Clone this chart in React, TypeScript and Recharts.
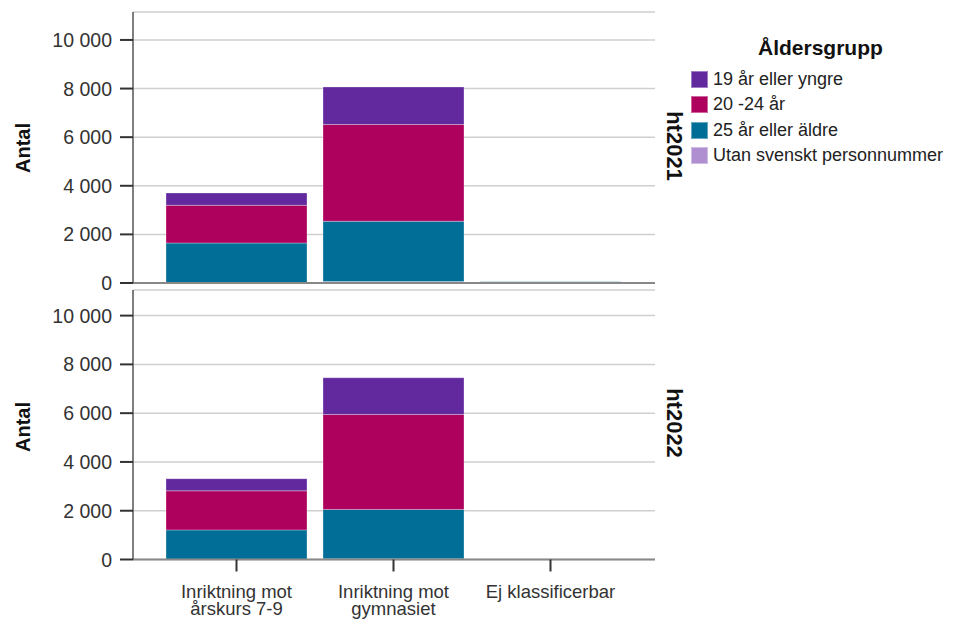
import React from "react";
import { BarChart, Bar, XAxis, YAxis, CartesianGrid } from "recharts";

const categories = ["Inriktning mot\nårskurs 7-9", "Inriktning mot\ngymnasiet", "Ej klassificerbar"];
const seriesNames = ["19 år eller yngre", "20 -24 år", "25 år eller äldre", "Utan svenskt personnummer"];
const seriesColors = ["#62289e", "#ae005d", "#006e96", "#b08fd0"];

// ht2021
const y2021_19 = [506, 1547, 0];
const y2021_20_24 = [1552, 3980, 0];
const y2021_25 = [1636, 2480, 40];
const y2021_utan = [10, 60, 10];

// ht2022
const y2022_19 = [497, 1507, 0];
const y2022_20_24 = [1602, 3892, 0];
const y2022_25 = [1204, 2024, 0];
const y2022_utan = [10, 30, 0];

const yTicks = [0, 2000, 4000, 6000, 8000, 10000];

const build = (a: number[], b: number[], c: number[], d: number[]) =>
  categories.map((cat, i) => ({ cat, s19: a[i], s2024: b[i], s25: c[i], utan: d[i] }));

const data2021 = build(y2021_19, y2021_20_24, y2021_25, y2021_utan);
const data2022 = build(y2022_19, y2022_20_24, y2022_25, y2022_utan);

const FONT = "'Liberation Sans', Arial, sans-serif";
const fmt = (v: number) => (v >= 1000 ? `${Math.floor(v / 1000)} ${String(v % 1000).padStart(3, "0")}` : String(v));

const CatTick = (props: any) => {
  const { x, y, payload } = props;
  const lines = String(payload.value).split("\n");
  return (
    <g>
      {lines.map((l, i) => (
        <text key={i} x={x} y={y + 26.5 + i * 17} textAnchor="middle" fontSize={18.5} fill="#333" fontFamily={FONT}>
          {l}
        </text>
      ))}
    </g>
  );
};

const ValTick = (props: any) => {
  const { y, payload } = props;
  return (
    <text x={112} y={y} dy={7} textAnchor="end" fontSize={19.5} fill="#333" fontFamily={FONT}>
      {fmt(Number(payload.value))}
    </text>
  );
};

const LegendBox = () => (
  <div style={{ position: "absolute", left: 691, top: 33, fontFamily: FONT, width: 280 }}>
    <div style={{ fontWeight: "bold", fontSize: 21, color: "#111", marginLeft: 67, height: 34, lineHeight: "30px" }}>Åldersgrupp</div>
    {seriesNames.map((n, i) => (
      <div key={n} style={{ display: "flex", alignItems: "center", height: 25.3 }}>
        <div style={{ width: 17, height: 17, background: seriesColors[i], border: "1px solid rgba(255,255,255,0.4)", boxSizing: "border-box", marginRight: 5 }} />
        <span style={{ fontSize: 18, color: "#222", whiteSpace: "nowrap" }}>{n}</span>
      </div>
    ))}
  </div>
);

const bars = () => [
  <Bar key="utan" dataKey="utan" stackId="a" fill={seriesColors[3]} stroke="#ffffff" strokeOpacity={0.3} strokeWidth={1} isAnimationActive={false} name={seriesNames[3]} />,
  <Bar key="s25" dataKey="s25" stackId="a" fill={seriesColors[2]} stroke="#ffffff" strokeOpacity={0.3} strokeWidth={1} isAnimationActive={false} name={seriesNames[2]} />,
  <Bar key="s2024" dataKey="s2024" stackId="a" fill={seriesColors[1]} stroke="#ffffff" strokeOpacity={0.3} strokeWidth={1} isAnimationActive={false} name={seriesNames[1]} />,
  <Bar key="s19" dataKey="s19" stackId="a" fill={seriesColors[0]} stroke="#ffffff" strokeOpacity={0.3} strokeWidth={1} isAnimationActive={false} name={seriesNames[0]} />,
];

const yAxisProps = {
  width: 133,
  ticks: yTicks,
  tick: <ValTick />,
  tickSize: 13,
  tickMargin: 8,
  tickLine: { stroke: "#333", strokeWidth: 2 },
  axisLine: { stroke: "#555", strokeWidth: 1.5 },
  interval: 0 as const,
};

const SideLabel = ({ x, y, text, rot, size }: { x: number; y: number; text: string; rot: number; size: number }) => (
  <div
    style={{
      position: "absolute",
      left: x,
      top: y,
      transform: `translate(-50%, -50%) rotate(${rot}deg)`,
      fontFamily: FONT,
      fontWeight: "bold",
      fontSize: size,
      color: "#111",
      whiteSpace: "nowrap",
    }}
  >
    {text}
  </div>
);

export default function App() {
  return (
    <div style={{ position: "absolute", left: 0, top: 0, width: 959, height: 621, background: "#fff", overflow: "hidden" }}>
      <div style={{ position: "absolute", left: 0, top: 283 }}>
        <BarChart width={700} height={338} data={data2022} margin={{ top: 7, right: 45, bottom: 0, left: 0 }} barCategoryGap={8}>
          <CartesianGrid vertical={false} stroke="#cfcfcf" strokeWidth={1.5} />
          <XAxis
            dataKey="cat"
            height={61.5}
            padding={{ left: 25, right: 26 }}
            tick={<CatTick />}
            tickSize={12}
            tickMargin={0}
            interval={0}
            tickLine={{ stroke: "#333", strokeWidth: 2 }}
            axisLine={{ stroke: "#888", strokeWidth: 2 }}
          />
          <YAxis domain={[0, 11050]} {...yAxisProps} />
          {bars()}
        </BarChart>
      </div>
      <div style={{ position: "absolute", left: 0, top: 0 }}>
        <BarChart width={700} height={300} data={data2021} margin={{ top: 12, right: 45, bottom: 10, left: 0 }} barCategoryGap={8}>
          <CartesianGrid vertical={false} stroke="#cfcfcf" strokeWidth={1.5} />
          <XAxis dataKey="cat" tick={false} tickLine={false} height={7} padding={{ left: 25, right: 26 }} axisLine={{ stroke: "#888", strokeWidth: 2 }} />
          <YAxis domain={[0, 11150]} {...yAxisProps} />
          {bars()}
        </BarChart>
      </div>
      <LegendBox />
      <SideLabel x={23} y={148} text="Antal" rot={-90} size={20} />
      <SideLabel x={23} y={427} text="Antal" rot={-90} size={20} />
      <SideLabel x={674} y={146} text="ht2021" rot={90} size={22} />
      <SideLabel x={674} y={423} text="ht2022" rot={90} size={22} />
    </div>
  );
}
